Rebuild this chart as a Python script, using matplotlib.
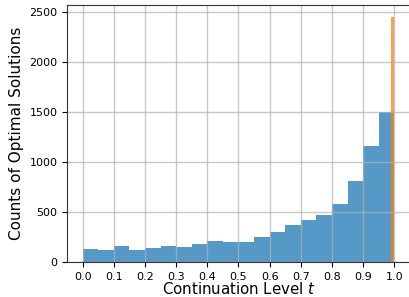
import matplotlib
matplotlib.use("Agg")
import matplotlib.pyplot as plt
import numpy as np

# histogram of continuation levels (bin width 0.05)
bin_left = np.arange(0, 1.0, 0.05)
counts = [133, 120, 160, 120, 140, 160, 150, 180, 210, 200,
          200, 250, 300, 370, 420, 470, 580, 810, 1160, 1500]

# solutions that reached t = 1
full_left = [0.99]
full_count = [2450]

fig = plt.figure(figsize=(4.09, 2.97), dpi=100)
ax = fig.add_axes([0.164, 0.118, 0.838, 0.865])

ax.bar(bin_left, counts, width=0.05, align="edge", color="tab:blue", alpha=0.75)
ax.bar(full_left, full_count, width=0.01, align="edge", color="tab:orange", alpha=0.75)

ax.set_xticks(np.arange(0, 1.01, 0.1))
ax.set_xticklabels([f"{v:.1f}" for v in np.arange(0, 1.01, 0.1)])
ax.tick_params(labelsize=8)
ax.grid(True, color="#b0b0b0", linewidth=1.0, alpha=0.7)

ax.set_xlabel("Continuation Level $t$", fontsize=10.8, labelpad=-0.5)
ax.set_ylabel("Counts of Optimal Solutions", fontsize=11)

for s in ax.spines.values():
    s.set_color("#333333")

fig.savefig("out.png", dpi=100)
